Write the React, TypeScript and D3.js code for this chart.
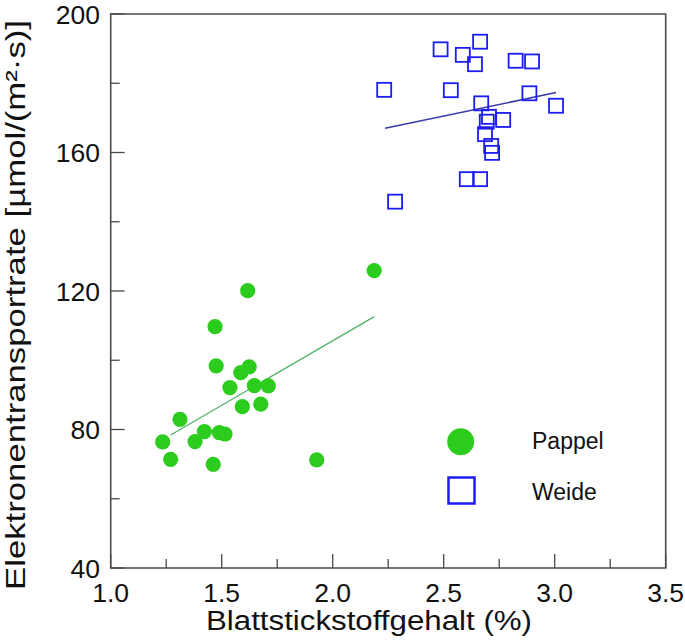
import React from "react";
import * as d3 from "d3";

const pappelN = [2.187, 1.617, 1.470, 1.475, 1.586, 1.624, 1.537, 1.647, 1.710, 1.593, 1.676, 1.312, 1.422, 1.489, 1.515, 1.234, 1.380, 1.270, 1.462, 1.928];
const pappelETR = [125.9, 120.1, 109.7, 98.4, 96.4, 98.1, 92.1, 92.7, 92.6, 86.6, 87.3, 82.9, 79.4, 79.1, 78.7, 76.4, 76.5, 71.4, 69.9, 71.2];
const weideN = [2.664, 2.486, 2.586, 2.641, 2.824, 2.898, 2.232, 2.532, 2.886, 3.006, 2.669, 2.704, 2.768, 2.694, 2.686, 2.714, 2.718, 2.604, 2.664, 2.281];
const weideETR = [192.0, 189.8, 188.2, 185.5, 186.5, 186.3, 178.1, 178.0, 177.1, 173.5, 174.2, 170.3, 169.4, 168.9, 165.3, 161.9, 159.9, 152.3, 152.3, 145.8];
const pappelFit = [[1.27, 78.4], [2.187, 112.6]];
const weideFit = [[2.236, 167.0], [3.006, 177.3]];
const xTicks = [1.0, 1.5, 2.0, 2.5, 3.0, 3.5];
const xMinor = [1.25, 1.75, 2.25, 2.75, 3.25];
const yTicks = [40, 80, 120, 160, 200];
const yMinor = [60, 100, 140, 180];
const legendLabels = ["Pappel", "Weide"];

const FONT = "'Liberation Sans', Arial, sans-serif";
const GREEN = "#2ccc1e";
const BLUE = "#1c1cf5";
const AXIS = "#4a4a4a";

export default function App() {
  const x = d3.scaleLinear().domain([1, 3.5]).range([110.7, 665.7]);
  const y = d3.scaleLinear().domain([40, 200]).range([568, 14]);
  const line = d3.line<number[]>().x((d) => x(d[0])).y((d) => y(d[1]));
  const x0 = x(1), x1 = x(3.5), y0 = y(40), y1 = y(200);
  const sq = 14;

  return (
    <svg width={685} height={641} style={{ position: "absolute", left: 0, top: 0, background: "#fff" }} fontFamily={FONT}>
      <rect width={685} height={641} fill="#fff" />
      {/* frame */}
      <path d={`M${x0},${y1}H${x1}V${y0}H${x0}Z`} fill="none" stroke={AXIS} strokeWidth={1.6} />
      {xTicks.map((t) => (
        <line key={"xt" + t} x1={x(t)} x2={x(t)} y1={y0} y2={y0 - 14} stroke={AXIS} strokeWidth={1.3} />
      ))}
      {xMinor.map((t) => (
        <line key={"xm" + t} x1={x(t)} x2={x(t)} y1={y0} y2={y0 - 9} stroke={AXIS} strokeWidth={1.3} />
      ))}
      {yTicks.map((t) => (
        <line key={"yt" + t} x1={x0} x2={x0 + 14} y1={y(t)} y2={y(t)} stroke={AXIS} strokeWidth={1.3} />
      ))}
      {yMinor.map((t) => (
        <line key={"ym" + t} x1={x0} x2={x0 + 9} y1={y(t)} y2={y(t)} stroke={AXIS} strokeWidth={1.3} />
      ))}
      {xTicks.map((t) => (
        <text key={"xl" + t} x={x(t)} y={602} textAnchor="middle" fontSize={26.5} fill="#111">
          {d3.format(".1f")(t)}
        </text>
      ))}
      {yTicks.map((t) => (
        <text key={"yl" + t} x={100} y={y(t) + 9.5} textAnchor="end" fontSize={26.5} fill="#111">
          {t}
        </text>
      ))}
      <text x={369} y={629.5} textAnchor="middle" fontSize={27} fill="#111" textLength={326} lengthAdjust="spacingAndGlyphs">
        Blattstickstoffgehalt (%)
      </text>
      <text transform="translate(25,305) rotate(-90)" textAnchor="middle" fontSize={28} fill="#111" textLength={570} lengthAdjust="spacingAndGlyphs">
        Elektronentransportrate [µmol/(m²·s)]
      </text>

      {/* fit lines */}
      <path d={line(pappelFit) || ""} fill="none" stroke="#4caf5e" strokeWidth={1.2} />
      <path d={line(weideFit) || ""} fill="none" stroke="#3a3aa8" strokeWidth={1.5} />

      {/* points */}
      {pappelN.map((n, i) => (
        <circle key={"p" + i} cx={x(n)} cy={y(pappelETR[i])} r={7.6} fill={GREEN} />
      ))}
      {weideN.map((n, i) => (
        <rect key={"w" + i} x={x(n) - sq / 2} y={y(weideETR[i]) - sq / 2} width={sq} height={sq} fill="none" stroke={BLUE} strokeWidth={1.8} />
      ))}

      {/* legend */}
      <circle cx={460.7} cy={441.7} r={13.5} fill={GREEN} />
      <rect x={448.5} y={477.5} width={26} height={26} fill="none" stroke={BLUE} strokeWidth={2.5} />
      <text x={532} y={449.3} fontSize={23} fill="#111">{legendLabels[0]}</text>
      <text x={532} y={500} fontSize={23} fill="#111">{legendLabels[1]}</text>
    </svg>
  );
}
